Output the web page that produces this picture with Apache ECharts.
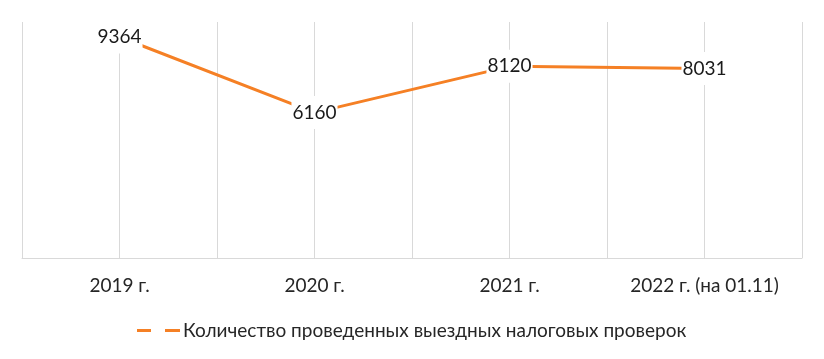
<!DOCTYPE html>
<html>
<head>
<meta charset="utf-8">
<script src="https://cdn.jsdelivr.net/npm/echarts@6/dist/echarts.min.js"></script>
<style>
  html, body { margin: 0; padding: 0; background: #fff; }
  #chart { width: 824px; height: 359px; }
</style>
</head>
<body>
<div id="chart"></div>
<script>
const years = ['2019 г.', '2020 г.', '2021 г.', '2022 г. (на 01.11)'];
const audits = [9364, 6160, 8120, 8031];
const seriesName = 'Количество проведенных выездных налоговых проверок';

const FONT = 'Lato';
const GRID_COLOR = '#d9d9d9';
const LINE_COLOR = '#f58025';

const chart = echarts.init(document.getElementById('chart'));

chart.setOption({
  animation: false,
  textStyle: { fontFamily: FONT },
  grid: { left: 22, right: 22, top: 22, bottom: 101 },
  legend: {
    left: 132,
    top: 316,
    selectedMode: false,
    itemWidth: 43,
    itemHeight: 3,
    icon: 'path://M0,0H14V3H0Z M28,0H43V3H28Z',
    itemStyle: { color: LINE_COLOR, opacity: 1 },
    textStyle: { fontFamily: FONT, fontSize: 19, color: '#262626', padding: [0, 0, 0, -2] },
    data: [seriesName],
  },
  xAxis: {
    type: 'category',
    data: years,
    boundaryGap: true,
    axisLine: { lineStyle: { color: GRID_COLOR, width: 1 } },
    axisTick: { show: false },
    axisLabel: { fontFamily: FONT, fontSize: 19, color: '#262626', margin: 18 },
    splitLine: { show: true, lineStyle: { color: GRID_COLOR, width: 1 } },
  },
  yAxis: {
    type: 'value',
    min: 0,
    max: 10000,
    show: false,
    splitLine: { show: false },
  },
  series: [
    {
      name: seriesName,
      type: 'line',
      data: audits,
      color: LINE_COLOR,
      showSymbol: true,
      symbol: 'circle',
      symbolSize: 0,
      itemStyle: { color: LINE_COLOR },
      lineStyle: { color: LINE_COLOR, width: 3 },
      label: {
        show: true,
        position: 'inside',
        fontFamily: FONT,
        fontSize: 19,
        color: '#1a1a1a',
        backgroundColor: '#fff',
        padding: [7, 1],
      },
      markLine: {
        silent: true,
        symbol: 'none',
        label: { show: false },
        lineStyle: { color: GRID_COLOR, width: 1, type: 'solid' },
        data: years.map((y) => ({ xAxis: y })),
        z: 1,
      },
      z: 3,
    },
  ],
});
</script>
</body>
</html>
